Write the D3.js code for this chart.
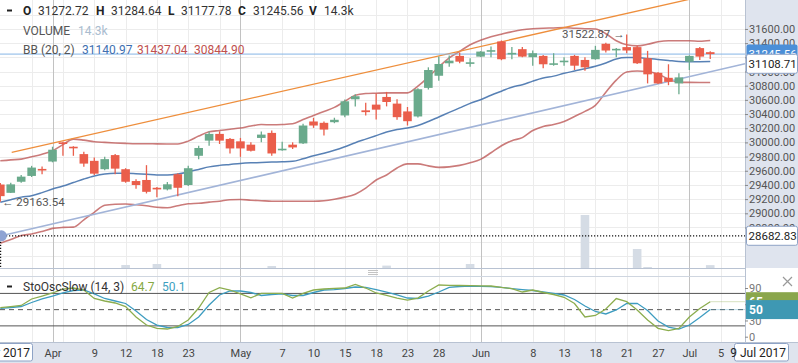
<!DOCTYPE html>
<html>
<head>
<meta charset="utf-8">
<script src="https://cdn.jsdelivr.net/npm/d3@7"></script>
<style>
  body { margin: 0; background: #fff; }
  svg { display: block; font-family: Roboto, "Noto Sans", sans-serif; }
</style>
</head>
<body>
<svg id="chart" width="798" height="363"></svg>
<script>
// daily candles, one per trading day (index based x axis)
var opens  = [29406,29289,29445,29527,29626,29730,30000,29939,29835,29740,29622,29821,29622,29455,29470,29360,29337,29551,29399,29811,30025,30120,30049,30015,29968,30063,30134,29899,29968,29986,30295,30276,30285,30380,30608,30452,30533,30641,30547,30437,30366,30769,30940,31116,31220,31116,31210,31281,31424,31249,31315,31202,31220,31102,31139,31220,31163,31173,31391,31305,31344,31344,31187,30982,30911,30832,31139,31330,31272.72];
var highs  = [29427,29431,29541,29669,29659,29939,30010,29946,29868,29787,29797,29835,29636,29480,29679,29370,29441,29565,29669,29954,30153,30157,30063,30063,30001,30153,30167,30010,30001,30262,30348,30295,30348,30604,30679,30561,30689,30712,30608,30499,30765,31059,31210,31224,31267,31187,31287,31352,31438,31344,31344,31295,31234,31258,31202,31234,31202,31362,31405,31330,31522.87,31362,31291,30992,31102,30974,31227,31344,31284.64];
var lows   = [29163.54,29285,29431,29512,29551,29719,29811,29811,29655,29541,29608,29551,29431,29346,29280,29228,29323,29242,29384,29764,29954,29978,29844,29797,29872,30001,29811,29882,29907,29978,30205,30096,30271,30356,30508,30380,30324,30508,30319,30238,30352,30746,30869,31068,31116,31068,31206,31202,31159,31173,31202,31082,31045,31082,31082,31021,31011,31166,31267,31202,31258,31106,30832,30822,30807,30679,31021,31163,31177.78];
var closes = [29242,29408,29517,29645,29612,29897,29978,29921,29701,29559,29764,29630,29445,29399,29303,29337,29409,29360,29636,29921,30120,30025,29915,29915,29882,30110,29844,29911,29929,30238,30238,30181,30319,30580,30651,30427,30462,30570,30356,30299,30750,31021,31106,31153,31139,31130,31281,31301,31173,31263,31210,31258,31102,31116,31153,31082,31059,31305,31296,31320,31296,31116,30960,30832,30854,30917,31220,31210,31245.56];
var volumes = [0,0,0,0,0,0,0,0,0,0, 0,0,15,0,0,20,0,0,0,0, 0,0,0,0,0,0,10,0,0,0, 0,0,0,0,0,0,0,12,0,0, 0,0,0,0,0,20,0,0,0,0, 0,0,0,0,0,0,265,0,0,0, 0,95,5,0,0,0,0,0,14.3];

// Bollinger (20, 2)
var bbUpper = [29740,29754,29764,29797,29833,29882,29968,30046,30032,30010,30000,29992,29986,29982,29982,29979,29978,29978,30018,30089,30149,30167,30186,30203,30231,30252,30248,30252,30262,30324,30380,30437,30494,30580,30665,30689,30694,30698,30698,30698,30793,30921,31064,31192,31284,31377,31441,31490,31526,31562,31590,31604,31611,31614,31619,31611,31604,31600,31533,31434,31377,31362,31384,31419,31434,31434,31434,31426,31437.04];
var bbMid   = [29157,29192,29228,29249,29292,29342,29384,29434,29484,29527,29555,29565,29565,29559,29551,29541,29541,29555,29584,29619,29655,29676,29690,29704,29712,29716,29722,29726,29733,29769,29811,29847,29889,29939,29996,30046,30096,30146,30181,30203,30238,30295,30359,30423,30487,30551,30601,30665,30722,30779,30814,30864,30907,30935,30974,31007,31039,31074,31120,31177,31196,31196,31184,31170,31156,31142,31139,31139,31140.97];
var bbLower = [28577,28630,28687,28708,28744,28787,28801,28805,28908,29014,29114,29128,29131,29121,29107,29085,29078,29107,29135,29142,29157,29171,29192,29195,29185,29178,29171,29171,29171,29171,29171,29178,29199,29228,29270,29356,29470,29541,29640,29697,29697,29669,29648,29655,29676,29712,29761,29854,29953,30025,30067,30167,30224,30252,30295,30366,30437,30523,30708,30879,30992,31007,30999,30964,30893,30850,30846,30844,30844.90];

// slow stochastic (14, 3)
var stoK = [53.6,55.5,57.7,69.7,75.2,80.8,88,90,86.3,70.6,66,62.3,55.8,36.4,21.6,15.2,14.2,18.9,30.9,53,81.7,90.6,86.3,79,72,80,80.2,80.2,71.5,80,86.3,88.2,89.5,90,96.5,90,80.8,76.2,71.5,67.8,71.5,84.5,95.6,95,94.6,94.3,94.1,93.7,91,89,82.6,86.3,81.7,78,72.8,61.4,36.4,39.2,51.2,70.6,64.7,49.4,30.9,15.5,11.1,15.2,36.4,52.1,64.7];
var stoD = [52.5,54,55.8,63.2,69.7,75.2,80.8,85.4,86.3,79,70.6,66,61.4,47.5,31.8,21.6,17,16.6,22.6,36.4,58.6,77.1,84.5,84.5,81.7,76.2,78,79,76.2,76.2,81.7,86.3,87.2,89.1,91.9,91.3,87.2,82.6,77.1,71.5,70.6,75.2,82.6,91,92.8,93.7,93.2,92.4,91,89,87.2,85.4,82.6,79.9,77.1,68.8,56.7,46.6,42,49.4,61.4,61.7,48.4,29,17.9,14.2,21.6,35.5,50.1];

// drawn trend lines (candle index, price)
var upTrend   = [{i: 1.09, v: 29860}, {i: 68, v: 32085}];
var lowTrend  = [{i: 0.1, v: 28682.83}, {i: 71.33, v: 31108.71}];

// x axis ticks
var gridIdx   = [3,6,9,12,15,18,21,27,30,33,36,39,42,45,48,51,54,57,60,63,69];
var tickIdx   = [9,12,15,18,27,30,33,36,39,42,51,54,57,60,63,69];
var tickLabels = ["9","12","18","23","7","10","15","18","23","28","8","13","18","21","27","5"];
var monthIdx  = [5,23,46,66];
var monthLabels = ["Apr","May","Jun","Jul"];

var GREEN = "#6aaa8c", RED = "#ea5e4b";
var plotW = 745, mainBot = 268, stoTop = 276, stoBot = 342;

var x  = d3.scaleLinear().domain([-0.03, 71.33]).range([0, plotW]);
var y  = d3.scaleLinear().domain([28228.5, 32008.5]).range([mainBot, 0]);
var ys = d3.scaleLinear().domain([-9.8, 112.2]).range([stoBot, stoTop]);
var yv = d3.scaleLinear().domain([0, 300]).range([mainBot, mainBot - 60]);

var svg = d3.select("#chart");
var defs = svg.append("defs");
defs.append("clipPath").attr("id", "clipMain").append("rect")
  .attr("width", plotW).attr("height", mainBot);
defs.append("clipPath").attr("id", "clipSto").append("rect")
  .attr("y", stoTop).attr("width", plotW).attr("height", stoBot - stoTop);

// backgrounds
svg.append("rect").attr("x", plotW).attr("width", 798 - plotW).attr("height", mainBot).attr("fill", "#dfe4ee");
svg.append("rect").attr("y", stoBot).attr("width", 798).attr("height", 363 - stoBot).attr("fill", "#dfe4ee");

// grid
var grid = svg.append("g");
grid.selectAll(".hg").data(d3.range(28400, 31801, 200)).enter().append("line")
  .attr("x1", 0).attr("x2", plotW)
  .attr("y1", function(d) { return Math.round(y(d)) + 0.5; })
  .attr("y2", function(d) { return Math.round(y(d)) + 0.5; })
  .attr("stroke", "#ececec");
grid.selectAll(".vg").data(gridIdx).enter().append("line")
  .attr("x1", function(d) { return Math.round(x(d)) + 0.5; })
  .attr("x2", function(d) { return Math.round(x(d)) + 0.5; })
  .attr("y1", 0).attr("y2", stoBot)
  .attr("stroke", "#ececec");
grid.selectAll(".mg").data(monthIdx).enter().append("line")
  .attr("x1", function(d) { return Math.round(x(d)) + 0.5; })
  .attr("x2", function(d) { return Math.round(x(d)) + 0.5; })
  .attr("y1", 0).attr("y2", stoBot)
  .attr("stroke", "#c2c2c2");

// panel borders
svg.append("line").attr("x1", plotW + 0.5).attr("x2", plotW + 0.5).attr("y1", 0).attr("y2", stoBot).attr("stroke", "#b8c2d2");
svg.append("line").attr("x1", 0).attr("x2", plotW).attr("y1", mainBot + 0.5).attr("y2", mainBot + 0.5).attr("stroke", "#b8c2d2");
svg.append("line").attr("x1", 0).attr("x2", plotW).attr("y1", stoTop + 0.5).attr("y2", stoTop + 0.5).attr("stroke", "#cfd6e0");
svg.append("line").attr("x1", 0).attr("x2", 798).attr("y1", stoBot + 0.5).attr("y2", stoBot + 0.5).attr("stroke", "#b8c2d2");
// drag handle
[270, 272, 274].forEach(function(h) {
  svg.append("line").attr("x1", 368).attr("x2", 378).attr("y1", h + 0.5).attr("y2", h + 0.5).attr("stroke", "#c4c4c4");
});

var main = svg.append("g").attr("clip-path", "url(#clipMain)");

// volume
main.selectAll(".vol").data(volumes).enter().append("rect")
  .attr("x", function(d, i) { return x(i) - 4.3; })
  .attr("width", 8.6)
  .attr("y", function(d) { return yv(d); })
  .attr("height", function(d) { return mainBot - yv(d); })
  .attr("fill", "#d5dce5");

// bollinger bands
var bbLine = d3.line().x(function(d, i) { return x(i); }).y(function(d) { return y(d); }).curve(d3.curveMonotoneX);
main.append("path").attr("d", bbLine(bbUpper)).attr("fill", "none").attr("stroke", "#b94f4d").attr("stroke-opacity", 0.75).attr("stroke-width", 1.6);
main.append("path").attr("d", bbLine(bbLower)).attr("fill", "none").attr("stroke", "#b94f4d").attr("stroke-opacity", 0.75).attr("stroke-width", 1.6);
main.append("path").attr("d", bbLine(bbMid)).attr("fill", "none").attr("stroke", "#4673ad").attr("stroke-opacity", 0.9).attr("stroke-width", 1.5);

// trend lines
var tLine = d3.line().x(function(d) { return x(d.i); }).y(function(d) { return y(d.v); });
main.append("path").attr("d", tLine(upTrend)).attr("fill", "none").attr("stroke", "#ee8e3c").attr("stroke-width", 1.3);
main.append("path").attr("d", tLine(lowTrend)).attr("fill", "none").attr("stroke", "#a2b4d8").attr("stroke-width", 1.6);

// last price line, low level dotted line
var last = closes[closes.length - 1];
main.append("line").attr("x1", 0).attr("x2", plotW).attr("y1", y(last)).attr("y2", y(last))
  .attr("stroke", "#86b6e6").attr("stroke-width", 1);
main.append("line").attr("x1", 0).attr("x2", plotW).attr("y1", y(28682.83)).attr("y2", y(28682.83))
  .attr("stroke", "#111").attr("stroke-dasharray", "1.2,1.8").attr("stroke-width", 1.2);
main.append("line").attr("x1", 0.6).attr("x2", 0.6).attr("y1", y(28682.83)).attr("y2", mainBot)
  .attr("stroke", "#111").attr("stroke-dasharray", "1.2,1.8").attr("stroke-width", 1.2);

// candles
var candles = d3.range(opens.length).map(function(i) {
  return {i: i, o: opens[i], h: highs[i], l: lows[i], c: closes[i]};
});
var col = function(d) { return d.c >= d.o ? GREEN : RED; };
main.selectAll(".wick").data(candles).enter().append("line")
  .attr("x1", function(d) { return x(d.i); })
  .attr("x2", function(d) { return x(d.i); })
  .attr("y1", function(d) { return y(d.h); })
  .attr("y2", function(d) { return y(d.l); })
  .attr("stroke", col).attr("stroke-width", 1.3);
main.selectAll(".body").data(candles).enter().append("rect")
  .attr("x", function(d) { return x(d.i) - 4.3; })
  .attr("width", 8.6)
  .attr("y", function(d) { return y(Math.max(d.o, d.c)); })
  .attr("height", function(d) { return Math.max(1.6, Math.abs(y(d.o) - y(d.c))); })
  .attr("fill", col);

// trend anchor
main.append("circle").attr("cx", x(lowTrend[0].i)).attr("cy", y(lowTrend[0].v)).attr("r", 5.5).attr("fill", "#8fa3d3");

// high / low annotations
var hiI = 60;
svg.append("text").attr("x", x(hiI) - 2).attr("y", y(highs[hiI]) + 4).attr("text-anchor", "end")
  .attr("font-size", "11.5px").attr("fill", "#555").text("31522.87 \u2192");
svg.append("text").attr("x", 2).attr("y", y(lows[0]) + 4)
  .attr("font-size", "11.5px").attr("fill", "#555").text("\u2190 29163.54");

// price axis
var yAxis = d3.axisRight(y).tickValues(d3.range(28800, 31601, 200)).tickFormat(d3.format(".2f")).tickSize(3).tickPadding(1);
var ax = svg.append("g").attr("transform", "translate(" + plotW + ",0)").call(yAxis)
  .attr("font-family", "Roboto, sans-serif").attr("font-size", 11);
ax.select(".domain").remove();
ax.selectAll("text").attr("fill", "#555");
ax.selectAll("line").attr("stroke", "#888");

// value boxes on price axis
function priceBox(v, fill, stroke, txtCol, label) {
  var yy = y(v);
  svg.append("rect").attr("x", plotW + 1.5).attr("y", yy - 9.5).attr("width", 51).attr("height", 19).attr("rx", 2)
    .attr("fill", fill).attr("stroke", stroke || "none");
  svg.append("text").attr("x", plotW + 3.5).attr("y", yy + 4.2).attr("font-size", "11.5px").attr("fill", txtCol).text(label);
}
priceBox(last, "#4b8fd8", null, "#fff", d3.format(".2f")(last));
priceBox(31108.71, "#fff", "#8ea3c6", "#222", "31108.71");
priceBox(28682.83, "#fff", "#8ea3c6", "#222", "28682.83");

// stochastic panel
var sto = svg.append("g").attr("clip-path", "url(#clipSto)");
[80, 20].forEach(function(lv) {
  sto.append("line").attr("x1", 0).attr("x2", plotW).attr("y1", ys(lv)).attr("y2", ys(lv)).attr("stroke", "#555");
});
sto.append("line").attr("x1", 0).attr("x2", plotW).attr("y1", ys(50)).attr("y2", ys(50))
  .attr("stroke", "#555").attr("stroke-dasharray", "5,4");
var sLine = d3.line().x(function(d, i) { return x(i); }).y(function(d) { return ys(d); });
var lastI = stoK.length - 1;
sto.append("line").attr("x1", x(lastI)).attr("x2", plotW).attr("y1", ys(stoK[lastI])).attr("y2", ys(stoK[lastI]))
  .attr("stroke", "#8cad4e").attr("stroke-opacity", 0.35);
sto.append("line").attr("x1", x(lastI)).attr("x2", plotW).attr("y1", ys(stoD[lastI])).attr("y2", ys(stoD[lastI]))
  .attr("stroke", "#3d9cc0").attr("stroke-opacity", 0.35);
sto.append("path").attr("d", sLine(stoD)).attr("fill", "none").attr("stroke", "#3d9cc0").attr("stroke-width", 1.3);
sto.append("path").attr("d", sLine(stoK)).attr("fill", "none").attr("stroke", "#8cad4e").attr("stroke-width", 1.3);

var sAxis = d3.axisRight(ys).tickValues([0, 30, 60, 90]).tickSize(3).tickPadding(1);
var sax = svg.append("g").attr("transform", "translate(" + plotW + ",0)").call(sAxis)
  .attr("font-family", "Roboto, sans-serif").attr("font-size", 11);
sax.select(".domain").remove();
sax.selectAll("text").attr("fill", "#777");
sax.selectAll("line").attr("stroke", "#888");

svg.append("rect").attr("x", plotW + 1).attr("y", ys(stoK[lastI]) - 9.5).attr("width", 52).attr("height", 19).attr("fill", "#8aa64c");
svg.append("text").attr("x", plotW + 4).attr("y", ys(stoK[lastI]) + 4.5).attr("font-size", "12px").attr("font-weight", "bold")
  .attr("fill", "#fff").text(Math.round(stoK[lastI]));
svg.append("rect").attr("x", plotW + 1).attr("y", ys(stoD[lastI]) - 9.5).attr("width", 52).attr("height", 19).attr("fill", "#3e98b3");
svg.append("text").attr("x", plotW + 4).attr("y", ys(stoD[lastI]) + 4.5).attr("font-size", "12px").attr("font-weight", "bold")
  .attr("fill", "#fff").text(Math.round(stoD[lastI]));
// close icon
svg.append("path").attr("d", "M783,277 L792,286 M792,277 L783,286").attr("stroke", "#999").attr("stroke-width", 1.2);

// date axis
var xLabels = {};
tickIdx.forEach(function(d, k) { xLabels[d] = tickLabels[k]; });
monthIdx.forEach(function(d, k) { xLabels[d] = monthLabels[k]; });
var xAxis = d3.axisBottom(x).tickValues(tickIdx.concat(monthIdx)).tickFormat(function(d) { return xLabels[d]; })
  .tickSize(0).tickPadding(7);
var xax = svg.append("g").attr("transform", "translate(0," + stoBot + ")").call(xAxis)
  .attr("font-family", "Roboto, sans-serif").attr("font-size", 11);
xax.select(".domain").remove();
xax.selectAll("text").attr("fill", "#444");

function dateBox(x0, w, label) {
  svg.append("rect").attr("x", x0 + 0.5).attr("y", 343.5).attr("width", w).attr("height", 17.5).attr("rx", 2)
    .attr("fill", "#fff").attr("stroke", "#8ea3c6");
  svg.append("text").attr("x", x0 + w - 2).attr("y", 357).attr("text-anchor", "end")
    .attr("font-size", "12px").attr("fill", "#222").text(label);
}
dateBox(-22, 54, "Mar 2017");
dateBox(734, 54, "9 Jul 2017");

// legends
var leg = svg.append("g").attr("font-size", "12px");
leg.append("line").attr("x1", 7).attr("x2", 12).attr("y1", 10.5).attr("y2", 10.5).attr("stroke", "#222").attr("stroke-width", 2);
var ohlc = [["O", 23, "31272.72", 38], ["H", 96, "31284.64", 111], ["L", 168, "31177.78", 181], ["C", 238, "31245.56", 253], ["V", 309, "14.3k", 324]];
ohlc.forEach(function(r) {
  leg.append("text").attr("x", r[1]).attr("y", 15).attr("font-weight", "bold").attr("fill", "#222").text(r[0]);
  leg.append("text").attr("x", r[3]).attr("y", 15).attr("fill", "#333").text(r[2]);
});
leg.append("text").attr("x", 23).attr("y", 35).attr("fill", "#555").text("VOLUME");
leg.append("text").attr("x", 78).attr("y", 35).attr("fill", "#a9bccf").text("14.3k");
leg.append("text").attr("x", 23).attr("y", 54).attr("fill", "#555").text("BB (20, 2)");
leg.append("text").attr("x", 82).attr("y", 54).attr("fill", "#3e6fb0").text("31140.97");
leg.append("text").attr("x", 137).attr("y", 54).attr("fill", "#c0504d").text("31437.04");
leg.append("text").attr("x", 194).attr("y", 54).attr("fill", "#c0504d").text("30844.90");

leg.append("line").attr("x1", 7).attr("x2", 12).attr("y1", 286.5).attr("y2", 286.5).attr("stroke", "#222").attr("stroke-width", 2);
leg.append("text").attr("x", 23).attr("y", 291).attr("fill", "#333").text("StoOscSlow (14, 3)");
leg.append("text").attr("x", 131).attr("y", 291).attr("fill", "#86a842").text("64.7");
leg.append("text").attr("x", 162).attr("y", 291).attr("fill", "#3d9fc0").text("50.1");
</script>
</body>
</html>
